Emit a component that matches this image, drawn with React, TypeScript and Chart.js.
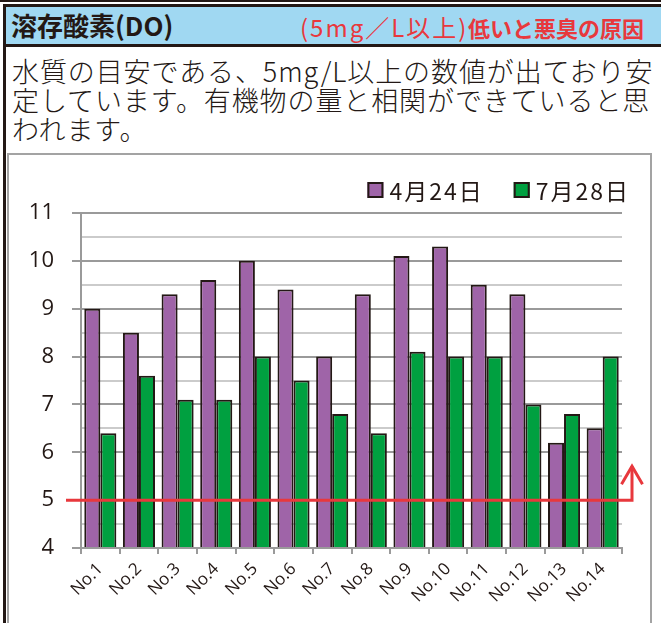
import React, { useEffect, useRef } from "react";
import { Chart, registerables } from "chart.js";

Chart.register(...registerables);

const categories = ["No.1", "No.2", "No.3", "No.4", "No.5", "No.6", "No.7", "No.8", "No.9", "No.10", "No.11", "No.12", "No.13", "No.14"];
const seriesLabels = ["4月24日", "7月28日"];
const aprilValues = [9.0, 8.5, 9.3, 9.6, 10.0, 9.4, 8.0, 9.3, 10.1, 10.3, 9.5, 9.3, 6.2, 6.5];
const julyValues = [6.4, 7.6, 7.1, 7.1, 8.0, 7.5, 6.8, 6.4, 8.1, 8.0, 8.0, 7.0, 6.8, 8.0];
const yMin = 4;
const yMax = 11;
const yStep = 0.5;
const threshold = 5;

const titleText = "溶存酸素(DO)";
const noteText1 = "(5mg／L以上)";
const noteText2 = "低いと悪臭の原因";
const bodyLines = [
  "水質の目安である、5mg/L以上の数値が出ており安",
  "定しています。有機物の量と相関ができていると思",
  "われます。",
];

const DARK = "#231815";
const PURPLE = "#9f64a8";
const GREEN = "#00a040";
const MAJOR_GRID = "#9a9a9a";
const MINOR_GRID = "#cbcbcb";
const RED = "#e8383d";
const CJK = '"Noto Sans CJK JP", "Noto Sans", sans-serif';

const legendPlugin = {
  id: "customLegend",
  afterDraw(chart: any) {
    const { ctx, chartArea } = chart;
    ctx.save();
    ctx.font = `23px ${CJK}`;
    try {
      (ctx as any).letterSpacing = "2px";
    } catch (e) {}
    ctx.textBaseline = "middle";
    const cy = chartArea.top - 23;
    let x = chartArea.right + 8;
    const ds = chart.data.datasets;
    for (let i = ds.length - 1; i >= 0; i--) {
      const text = ds[i].label as string;
      const w = ctx.measureText(text).width;
      const tx = x - w;
      const bx = tx - 6 - 16;
      ctx.fillStyle = DARK;
      ctx.fillText(text, tx, cy + 1);
      ctx.fillStyle = ds[i].backgroundColor;
      ctx.fillRect(bx, cy - 8, 16, 16);
      ctx.lineWidth = 2;
      ctx.strokeStyle = DARK;
      ctx.strokeRect(bx + 1, cy - 7, 14, 14);
      x = bx - 30;
    }
    ctx.restore();
  },
};

const thresholdPlugin = {
  id: "thresholdArrow",
  afterDatasetsDraw(chart: any) {
    const { ctx, chartArea } = chart;
    const y = chart.scales.y.getPixelForValue(threshold);
    const x0 = chartArea.left - 15;
    const x1 = chartArea.right + 10;
    const top = y - 34;
    ctx.save();
    ctx.strokeStyle = RED;
    ctx.lineWidth = 3;
    ctx.lineJoin = "miter";
    ctx.beginPath();
    ctx.moveTo(x0, y);
    ctx.lineTo(x1, y);
    ctx.lineTo(x1, top);
    ctx.stroke();
    ctx.beginPath();
    ctx.moveTo(x1 - 10.5, top + 18);
    ctx.lineTo(x1, top);
    ctx.lineTo(x1 + 10.5, top + 18);
    ctx.stroke();
    ctx.restore();
  },
};

function DOChart() {
  const ref = useRef<HTMLCanvasElement | null>(null);
  useEffect(() => {
    if (!ref.current) return;
    const chart = new Chart(ref.current, {
      type: "bar",
      data: {
        labels: categories,
        datasets: [
          {
            label: seriesLabels[0],
            data: aprilValues,
            backgroundColor: PURPLE,
            borderColor: DARK,
            borderWidth: 2,
            base: yMin,
            categoryPercentage: 0.83,
            barPercentage: 1,
          } as any,
          {
            label: seriesLabels[1],
            data: julyValues,
            backgroundColor: GREEN,
            borderColor: DARK,
            borderWidth: 2,
            base: yMin,
            categoryPercentage: 0.83,
            barPercentage: 1,
          } as any,
        ],
      },
      options: {
        animation: false,
        responsive: false,
        maintainAspectRatio: false,
        layout: { padding: { left: 0, right: 28, top: 58, bottom: 0 } },
        plugins: {
          legend: { display: false },
          tooltip: { enabled: false },
        },
        scales: {
          x: {
            grid: {
              display: true,
              drawOnChartArea: false,
              drawTicks: true,
              tickLength: 6,
              color: MAJOR_GRID,
              lineWidth: 2,
            },
            border: { display: true, color: MAJOR_GRID, width: 2 },
            ticks: {
              autoSkip: false,
              minRotation: 45,
              maxRotation: 45,
              color: DARK,
              padding: 5,
              font: { family: '"Open Sans", "Noto Sans", sans-serif', size: 17 },
            },
            afterFit(scale: any) {
              scale.height = 75;
            },
          },
          y: {
            min: yMin,
            max: yMax,
            ticks: {
              stepSize: yStep,
              autoSkip: false,
              color: DARK,
              padding: 18,
              font: { family: '"Open Sans", "Noto Sans", sans-serif', size: 22 },
              callback: (v: any) => (Number.isInteger(v) ? String(v) : ""),
            },
            grid: {
              drawTicks: true,
              tickLength: 9,
              lineWidth: 2,
              color: (c: any) => (c.tick && Number.isInteger(c.tick.value) ? MAJOR_GRID : MINOR_GRID),
              tickColor: (c: any) => (c.tick && Number.isInteger(c.tick.value) ? MAJOR_GRID : "rgba(0,0,0,0)"),
            },
            border: { display: true, color: MAJOR_GRID, width: 2 },
            afterFit(scale: any) {
              scale.width = 72;
            },
          },
        },
      },
      plugins: [legendPlugin, thresholdPlugin],
    });
    return () => chart.destroy();
  }, []);
  return (
    <canvas
      ref={ref}
      width={641}
      height={468}
      style={{ position: "absolute", left: 9, top: 155, width: 641, height: 468 }}
    />
  );
}

export default function App() {
  return (
    <div
      style={{
        position: "fixed",
        left: 0,
        top: 0,
        width: 661,
        height: 623,
        background: "#ffffff",
        overflow: "hidden",
        fontFamily: CJK,
      }}
    >
      <div style={{ position: "absolute", left: 0, top: 0, width: 661, height: 2, background: DARK }} />
      <div
        style={{
          position: "absolute",
          left: 3,
          top: 4,
          width: 680,
          height: 43,
          boxSizing: "border-box",
          borderTop: `3px solid ${DARK}`,
          borderLeft: `3px solid ${DARK}`,
          borderBottom: `3px solid ${DARK}`,
          background: "#a0d8f2",
        }}
      />
      <div style={{ position: "absolute", left: 3, top: 46, width: 3, height: 577, background: DARK }} />
      <div
        style={{
          position: "absolute",
          left: 11,
          top: 12,
          fontSize: 26,
          lineHeight: "26px",
          fontWeight: 700,
          color: DARK,
          whiteSpace: "nowrap",
        }}
      >
        {titleText}
      </div>
      <div
        style={{
          position: "absolute",
          left: 300,
          top: 15,
          fontSize: 24,
          lineHeight: "24px",
          fontWeight: 400,
          color: RED,
          letterSpacing: 2,
          whiteSpace: "nowrap",
        }}
      >
        {noteText1}
      </div>
      <div
        style={{
          position: "absolute",
          left: 468,
          top: 16,
          fontSize: 22,
          lineHeight: "22px",
          fontWeight: 700,
          color: RED,
          whiteSpace: "nowrap",
        }}
      >
        {noteText2}
      </div>
      {bodyLines.map((line, i) => (
        <div
          key={i}
          style={{
            position: "absolute",
            left: 12,
            top: 56 + i * 29,
            fontSize: 27,
            lineHeight: "29px",
            fontWeight: 300,
            color: DARK,
            letterSpacing: 0.9,
            whiteSpace: "nowrap",
          }}
        >
          {line}
        </div>
      ))}
      <div
        style={{
          position: "absolute",
          left: 7,
          top: 153,
          width: 645,
          height: 480,
          boxSizing: "border-box",
          border: "2px solid #a3a3a3",
        }}
      />
      <DOChart />
    </div>
  );
}
